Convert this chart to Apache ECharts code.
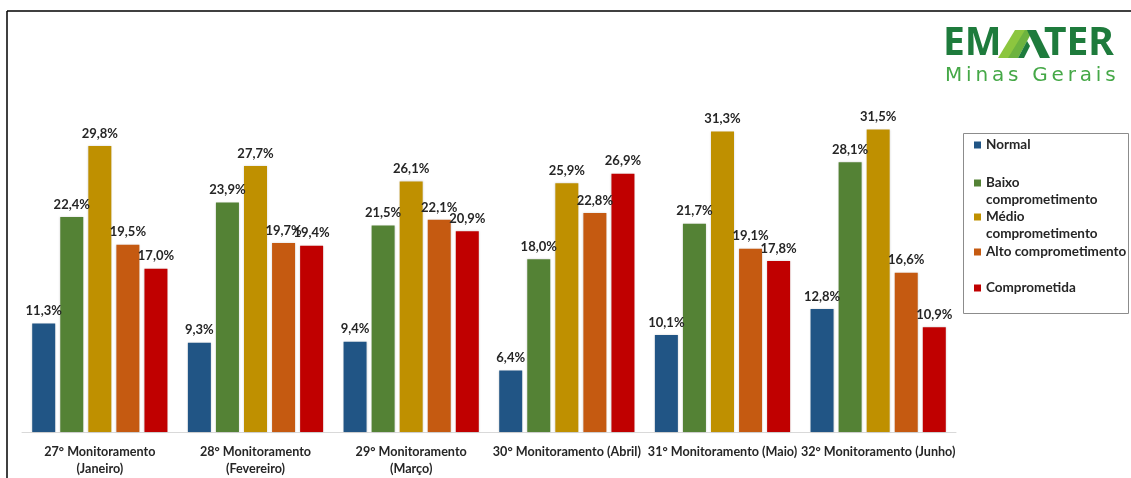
<!DOCTYPE html>
<html>
<head>
<meta charset="utf-8">
<script src="https://cdn.jsdelivr.net/npm/echarts@6/dist/echarts.min.js"></script>
<style>
  html, body { margin: 0; padding: 0; background: #ffffff; }
  #chart { width: 1131px; height: 478px; }
</style>
</head>
<body>
<div id="chart"></div>
<script>
// Monitoring rounds (x categories)
const categories = [
  '27° Monitoramento\n(Janeiro)',
  '28° Monitoramento\n(Fevereiro)',
  '29° Monitoramento\n(Março)',
  '30° Monitoramento (Abril)',
  '31° Monitoramento (Maio)',
  '32° Monitoramento (Junho)'
];

// Share of each condition class, in percent
const normal = [11.3, 9.3, 9.4, 6.4, 10.1, 12.8];
const baixo = [22.4, 23.9, 21.5, 18.0, 21.7, 28.1];
const medio = [29.8, 27.7, 26.1, 25.9, 31.3, 31.5];
const alto = [19.5, 19.7, 22.1, 22.8, 19.1, 16.6];
const comprometida = [17.0, 19.4, 20.9, 26.9, 17.8, 10.9];

const seriesNames = ['Normal', 'Baixo comprometimento', 'Médio comprometimento', 'Alto comprometimento', 'Comprometida'];
const seriesData = [normal, baixo, medio, alto, comprometida];
const colors = ['#215585', '#548235', '#bf9000', '#c55a11', '#c00000'];

const FONT = 'Lato, "Open Sans", sans-serif';
const TEXT = '#262626';

const chart = echarts.init(document.getElementById('chart'), null, { renderer: 'canvas' });

const series = seriesNames.map((name, i) => ({
  name: name,
  type: 'bar',
  data: seriesData[i],
  barWidth: 23,
  barGap: '22%',
  itemStyle: { color: colors[i], shadowColor: 'rgba(0,0,0,0.18)', shadowBlur: 2 },
  label: {
    show: true,
    position: 'top',
    distance: 6,
    color: TEXT,
    fontFamily: FONT,
    fontWeight: 'bold',
    fontSize: 13,
    formatter: p => p.value.toFixed(1).replace('.', ',') + '%'
  }
}));

// Legend rows: first line sits beside the swatch, a wrapped second line goes below
const legendRows = [
  { name: 'Normal', cy: 145, first: 'Normal', second: null },
  { name: 'Baixo comprometimento', cy: 183, first: 'Baixo', second: 'comprometimento' },
  { name: 'Médio comprometimento', cy: 217, first: 'Médio', second: 'comprometimento' },
  { name: 'Alto comprometimento', cy: 252, first: 'Alto comprometimento', second: null },
  { name: 'Comprometida', cy: 288, first: 'Comprometida', second: null }
];

const LEGEND_FONT_SIZE = 13.5;
const LEGEND_LINE = 17;

const legends = legendRows.map(r => ({
  data: [r.name],
  left: 974,
  top: r.cy - LEGEND_LINE / 2,
  orient: 'vertical',
  padding: 0,
  itemWidth: 7,
  itemHeight: 7,
  itemGap: 0,
  icon: 'rect',
  selectedMode: false,
  formatter: () => r.first,
  textStyle: {
    color: TEXT,
    fontFamily: FONT,
    fontWeight: 'bold',
    fontSize: LEGEND_FONT_SIZE,
    lineHeight: LEGEND_LINE
  }
}));

const legendSecondLines = legendRows.filter(r => r.second).map(r => ({
  type: 'text',
  x: 986,
  y: r.cy + LEGEND_LINE,
  style: {
    text: r.second,
    fill: TEXT,
    font: 'bold ' + LEGEND_FONT_SIZE + 'px ' + FONT,
    verticalAlign: 'middle'
  }
}));

// Logo wordmark: "Minas Gerais" is set letter by letter with extra tracking
const tagline = 'Minas Gerais';
const taglineFont = '500 20px "DejaVu Sans", sans-serif';
const measureCtx = document.createElement('canvas').getContext('2d');
measureCtx.font = taglineFont;
const taglineLetters = [];
let tx = 945;
for (const ch of tagline) {
  taglineLetters.push({ type: 'text', x: tx, y: 76, style: { text: ch, fill: '#45a847', font: taglineFont, verticalAlign: 'middle' } });
  tx += measureCtx.measureText(ch).width + 3.8;
}

// Logo mark: stylised "A" built from slanted stripes
const logoA = [
  { shape: { points: [[998, 58], [1010, 58], [1027, 30], [1015, 30]] }, style: { fill: '#8cc63f' } },
  { shape: { points: [[1008, 58], [1018, 58], [1033, 30], [1025, 30]] }, style: { fill: '#6db33f' } },
  { shape: { points: [[1027, 30], [1036, 30], [1050, 58], [1040, 58]] }, style: { fill: '#1e7b3c' } },
  { shape: { points: [[1018, 58], [1024, 58], [1030, 46], [1027, 41]] }, style: { fill: '#1e7b3c' } }
].map(p => Object.assign({ type: 'polygon', z: 10 }, p));

chart.setOption({
  backgroundColor: '#ffffff',
  animation: false,
  color: colors,
  grid: { left: 22, right: 175, top: 96, bottom: 46, containLabel: false },
  xAxis: {
    type: 'category',
    data: categories,
    axisLine: { lineStyle: { color: '#d9d9d9', width: 1 } },
    axisTick: { show: false },
    axisLabel: {
      color: TEXT,
      fontFamily: FONT,
      fontWeight: 'bold',
      fontSize: 12.6,
      lineHeight: 17,
      margin: 11,
      interval: 0
    }
  },
  yAxis: {
    type: 'value',
    min: 0,
    max: 35,
    show: false,
    splitLine: { show: false }
  },
  legend: legends,
  series: series,
  graphic: [
    // frame lines along the top and left edge
    { type: 'line', shape: { x1: 7, y1: 11, x2: 1131, y2: 11 }, style: { stroke: '#000', lineWidth: 1.5 } },
    { type: 'line', shape: { x1: 7, y1: 11, x2: 7, y2: 478 }, style: { stroke: '#000', lineWidth: 1.5 } },
    // legend frame
    { type: 'rect', shape: { x: 963.5, y: 133.5, width: 165, height: 180 }, style: { fill: 'none', stroke: '#8c8c8c', lineWidth: 1 }, z: -1 },
    // logo
    { type: 'text', left: 943, top: 24, style: { text: 'EM', fill: '#1e7b3c', font: 'bold 39px "Noto Sans", sans-serif' } },
    { type: 'text', left: 1044, top: 24, style: { text: 'TER', fill: '#1e7b3c', font: 'bold 39px "Noto Sans", sans-serif' } }
  ].concat(logoA, taglineLetters, legendSecondLines)
});
</script>
</body>
</html>
